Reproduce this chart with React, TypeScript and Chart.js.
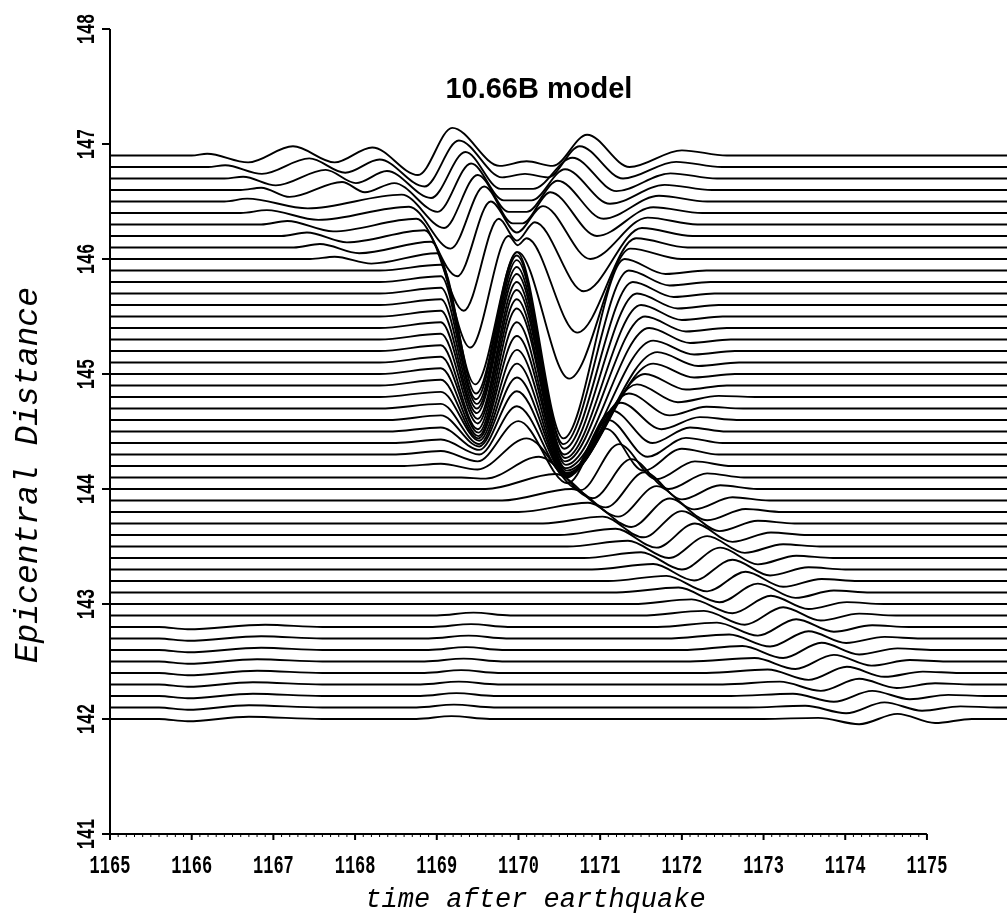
import React, { useEffect, useRef } from 'react';
import { Chart, registerables } from 'chart.js';

Chart.register(...registerables);

// ---- data ----
const TITLE = '10.66B model';
const X_TITLE = 'time after earthquake';
const Y_TITLE = 'Epicentral Distance';

const X_TICKS = [1165, 1166, 1167, 1168, 1169, 1170, 1171, 1172, 1173, 1174, 1175];
const Y_TICKS = [141, 142, 143, 144, 145, 146, 147, 148];
const X_RANGE = [1165, 1175.98];

const T_START = 1165;
const T_END = 1176.3;

// epicentral distance of each trace (its baseline)
const DISTANCES = [
  146.9, 146.8, 146.7, 146.6, 146.5, 146.4, 146.3, 146.2, 146.1, 146.0,
  145.9, 145.8, 145.7, 145.6, 145.5, 145.4, 145.3, 145.2, 145.1, 145.0,
  144.9, 144.8, 144.7, 144.6, 144.5, 144.4, 144.3, 144.2, 144.1, 144.0,
  143.9, 143.8, 143.7, 143.6, 143.5, 143.4, 143.3, 143.2, 143.1, 143.0,
  142.9, 142.8, 142.7, 142.6, 142.5, 142.4, 142.3, 142.2, 142.1, 142.0,
];

// turning points of each trace: [time, displacement (deg), time, displacement, ...]
const TRACE_EXTREMA: number[][] = [
  [1166.0, 0, 1166.19, 0.015, 1166.69, -0.06, 1167.24, 0.08, 1167.75, -0.06, 1168.21, 0.07, 1168.77, -0.17, 1169.19, 0.24, 1169.77, -0.09, 1170.1, -0.05, 1170.42, -0.09, 1170.84, 0.18, 1171.36, -0.1, 1172.0, 0.045, 1172.55, 0],
  [1166.2, 0, 1166.41, 0.015, 1166.86, -0.06, 1167.44, 0.075, 1167.88, -0.05, 1168.3, 0.065, 1168.85, -0.17, 1169.27, 0.23, 1169.8, -0.09, 1170.08, -0.06, 1170.36, -0.09, 1170.75, 0.18, 1171.28, -0.1, 1171.93, 0.045, 1172.49, 0],
  [1166.4, 0, 1166.63, 0.015, 1167.03, -0.06, 1167.64, 0.075, 1168.01, -0.04, 1168.39, 0.065, 1168.93, -0.17, 1169.35, 0.23, 1169.78, -0.09, 1170.18, -0.09, 1170.66, 0.18, 1171.2, -0.11, 1171.86, 0.045, 1172.43, 0],
  [1166.6, 0, 1166.85, 0.02, 1167.2, -0.06, 1167.84, 0.07, 1168.12, -0.02, 1168.48, 0.06, 1169.01, -0.19, 1169.42, 0.23, 1169.82, -0.09, 1170.16, -0.09, 1170.57, 0.18, 1171.12, -0.12, 1171.79, 0.045, 1172.37, 0],
  [1166.4, 0, 1166.68, 0.025, 1167.42, -0.06, 1168.57, 0.06, 1169.09, -0.23, 1169.5, 0.23, 1169.88, -0.09, 1170.1, -0.09, 1170.48, 0.18, 1171.04, -0.15, 1171.72, 0.05, 1172.31, 0],
  [1166.6, 0, 1166.92, 0.025, 1167.55, -0.06, 1168.66, 0.055, 1169.17, -0.31, 1169.58, 0.23, 1169.93, -0.09, 1170.05, -0.09, 1170.39, 0.18, 1170.96, -0.2, 1171.65, 0.05, 1172.25, 0],
  [1166.85, 0, 1167.17, 0.03, 1167.73, -0.06, 1168.75, 0.05, 1169.25, -0.45, 1169.66, 0.2, 1169.98, -0.07, 1170.3, 0.16, 1170.88, -0.3, 1171.58, 0.06, 1172.19, 0],
  [1167.1, 0, 1167.41, 0.03, 1167.9, -0.055, 1168.85, 0.05, 1169.33, -0.65, 1169.76, 0.15, 1169.98, -0.04, 1170.2, 0.12, 1170.8, -0.48, 1171.51, 0.07, 1172.13, 0],
  [1167.25, 0, 1167.57, 0.03, 1168.05, -0.05, 1168.93, 0.05, 1169.41, -0.87, 1169.88, 0.1, 1169.99, 0.02, 1170.1, 0.08, 1170.72, -0.74, 1171.44, 0.08, 1172.07, 0],
  [1167.45, 0, 1167.75, 0.02, 1168.2, -0.04, 1169.0, 0.05, 1169.47, -1.09, 1169.99, 0.06, 1170.62, -1.04, 1171.37, 0.09, 1172.0, 0],
  [1168.3, 0, 1169.05, 0.05, 1169.48, -1.07, 1169.98, 0.16, 1170.55, -1.46, 1171.3, 0.1, 1171.8, -0.03, 1172.3, 0],
  [1168.3, 0, 1169.05, 0.05, 1169.48, -1.02, 1169.98, 0.23, 1170.55, -1.41, 1171.35, 0.1, 1171.85, -0.03, 1172.35, 0],
  [1168.3, 0, 1169.05, 0.05, 1169.49, -0.96, 1169.98, 0.29, 1170.56, -1.35, 1171.4, 0.1, 1171.9, -0.03, 1172.4, 0],
  [1168.3, 0, 1169.05, 0.05, 1169.49, -0.9, 1169.98, 0.33, 1170.56, -1.3, 1171.45, 0.1, 1171.95, -0.03, 1172.45, 0],
  [1168.3, 0, 1169.05, 0.05, 1169.49, -0.84, 1169.98, 0.37, 1170.57, -1.23, 1171.5, 0.1, 1172.0, -0.03, 1172.5, 0],
  [1168.3, 0, 1169.05, 0.05, 1169.5, -0.79, 1169.98, 0.4, 1170.57, -1.16, 1171.55, 0.1, 1172.05, -0.03, 1172.55, 0],
  [1168.3, 0, 1169.05, 0.05, 1169.5, -0.73, 1169.98, 0.43, 1170.58, -1.09, 1171.6, 0.1, 1172.1, -0.03, 1172.6, 0],
  [1168.3, 0, 1169.05, 0.05, 1169.5, -0.68, 1169.98, 0.45, 1170.58, -1.02, 1171.65, 0.09, 1172.15, -0.03, 1172.65, 0],
  [1168.3, 0, 1169.05, 0.05, 1169.51, -0.61, 1169.98, 0.47, 1170.59, -0.94, 1171.7, 0.09, 1172.2, -0.03, 1172.7, 0],
  [1168.3, 0, 1169.05, 0.05, 1169.51, -0.54, 1169.98, 0.45, 1170.59, -0.86, 1171.65, 0.09, 1172.15, -0.03, 1172.65, 0],
  [1168.3, 0, 1169.05, 0.05, 1169.51, -0.46, 1169.98, 0.43, 1170.6, -0.77, 1171.55, 0.1, 1172.05, -0.035, 1172.55, 0],
  [1168.3, 0, 1169.05, 0.045, 1169.52, -0.38, 1169.98, 0.41, 1170.6, -0.68, 1171.45, 0.11, 1171.95, -0.045, 1172.45, 0.01, 1172.9, 0],
  [1168.3, 0, 1169.05, 0.04, 1169.52, -0.31, 1169.98, 0.39, 1170.6, -0.59, 1171.35, 0.13, 1171.85, -0.06, 1172.3, 0.015, 1172.75, 0],
  [1168.4, 0, 1169.05, 0.04, 1169.52, -0.23, 1169.98, 0.37, 1170.6, -0.49, 1171.25, 0.15, 1171.75, -0.08, 1172.22, 0.025, 1172.67, 0],
  [1168.4, 0, 1169.05, 0.035, 1169.52, -0.16, 1169.98, 0.35, 1170.6, -0.39, 1171.15, 0.18, 1171.64, -0.1, 1172.1, 0.035, 1172.55, 0],
  [1168.5, 0, 1169.05, 0.03, 1169.52, -0.1, 1169.98, 0.32, 1170.6, -0.3, 1171.1, 0.2, 1171.58, -0.12, 1172.05, 0.045, 1172.5, 0],
  [1168.5, 0, 1169.05, 0.03, 1169.5, -0.06, 1170.0, 0.29, 1170.6, -0.25, 1171.07, 0.225, 1171.53, -0.14, 1172.0, 0.05, 1172.45, 0],
  [1168.6, 0, 1169.05, 0.02, 1169.5, -0.03, 1170.1, 0.24, 1170.76, -0.21, 1171.23, 0.19, 1171.69, -0.115, 1172.16, 0.04, 1172.61, 0],
  [1169.3, 0, 1169.6, -0.01, 1170.25, 0.18, 1170.91, -0.18, 1171.38, 0.16, 1171.84, -0.1, 1172.31, 0.036, 1172.76, 0],
  [1169.6, 0, 1170.45, 0.13, 1171.07, -0.16, 1171.54, 0.145, 1172.0, -0.09, 1172.47, 0.032, 1172.92, 0],
  [1169.8, 0, 1170.65, 0.1, 1171.22, -0.14, 1171.69, 0.125, 1172.15, -0.077, 1172.62, 0.028, 1173.07, 0],
  [1170.0, 0, 1170.85, 0.08, 1171.38, -0.13, 1171.85, 0.117, 1172.31, -0.072, 1172.78, 0.026, 1173.23, 0],
  [1170.3, 0, 1171.03, 0.06, 1171.53, -0.12, 1172.0, 0.108, 1172.46, -0.066, 1172.93, 0.024, 1173.38, 0],
  [1170.5, 0, 1171.19, 0.055, 1171.69, -0.11, 1172.16, 0.1, 1172.62, -0.06, 1173.09, 0.022, 1173.54, 0],
  [1170.6, 0, 1171.34, 0.05, 1171.84, -0.1, 1172.31, 0.09, 1172.77, -0.055, 1173.24, 0.02, 1173.69, 0],
  [1170.8, 0, 1171.5, 0.05, 1172.0, -0.1, 1172.47, 0.09, 1172.93, -0.055, 1173.4, 0.02, 1173.85, 0],
  [1170.9, 0, 1171.65, 0.048, 1172.15, -0.095, 1172.62, 0.085, 1173.08, -0.052, 1173.55, 0.019, 1174.0, 0],
  [1171.1, 0, 1171.81, 0.045, 1172.31, -0.09, 1172.78, 0.08, 1173.24, -0.05, 1173.71, 0.018, 1174.16, 0],
  [1171.2, 0, 1171.96, 0.043, 1172.46, -0.085, 1172.93, 0.077, 1173.39, -0.047, 1173.86, 0.017, 1174.31, 0],
  [1171.4, 0, 1172.12, 0.04, 1172.62, -0.08, 1173.09, 0.072, 1173.55, -0.044, 1174.02, 0.016, 1174.47, 0],
  [1169.0, 0, 1169.45, 0.025, 1169.9, 0, 1171.5, 0, 1172.27, 0.04, 1172.77, -0.08, 1173.24, 0.072, 1173.7, -0.044, 1174.17, 0.016, 1174.62, 0],
  [1165.6, 0, 1165.95, -0.02, 1166.9, 0.02, 1167.6, 0, 1168.95, 0, 1169.42, 0.025, 1169.87, 0, 1171.7, 0, 1172.43, 0.038, 1172.93, -0.075, 1173.4, 0.068, 1173.86, -0.041, 1174.33, 0.015, 1174.78, 0],
  [1165.6, 0, 1165.95, -0.02, 1166.85, 0.02, 1167.6, 0, 1168.9, 0, 1169.39, 0.025, 1169.85, 0, 1171.8, 0, 1172.58, 0.035, 1173.08, -0.07, 1173.55, 0.063, 1174.01, -0.039, 1174.48, 0.014, 1174.93, 0],
  [1165.6, 0, 1165.95, -0.02, 1166.85, 0.02, 1167.6, 0, 1168.9, 0, 1169.36, 0.025, 1169.8, 0, 1172.0, 0, 1172.74, 0.035, 1173.24, -0.07, 1173.71, 0.063, 1174.17, -0.039, 1174.64, 0.014, 1175.09, 0],
  [1165.6, 0, 1165.95, -0.02, 1166.8, 0.02, 1167.6, 0, 1168.85, 0, 1169.33, 0.025, 1169.8, 0, 1172.1, 0, 1172.89, 0.03, 1173.39, -0.065, 1173.86, 0.058, 1174.32, -0.036, 1174.79, 0.013, 1175.24, 0],
  [1165.6, 0, 1165.95, -0.02, 1166.8, 0.02, 1167.6, 0, 1168.85, 0, 1169.3, 0.025, 1169.75, 0, 1172.3, 0, 1173.05, 0.03, 1173.55, -0.06, 1174.02, 0.054, 1174.48, -0.033, 1174.95, 0.012, 1175.4, 0],
  [1165.6, 0, 1165.95, -0.02, 1166.75, 0.02, 1167.6, 0, 1168.8, 0, 1169.27, 0.025, 1169.75, 0, 1172.5, 0, 1173.2, 0.025, 1173.7, -0.055, 1174.17, 0.05, 1174.63, -0.03, 1175.1, 0.011, 1175.55, 0],
  [1165.6, 0, 1165.95, -0.02, 1166.75, 0.02, 1167.6, 0, 1168.8, 0, 1169.24, 0.025, 1169.7, 0, 1172.6, 0, 1173.36, 0.02, 1173.86, -0.05, 1174.33, 0.045, 1174.79, -0.028, 1175.26, 0.01, 1175.71, 0],
  [1165.6, 0, 1165.95, -0.02, 1166.7, 0.02, 1167.6, 0, 1168.75, 0, 1169.21, 0.025, 1169.7, 0, 1172.8, 0, 1173.51, 0.015, 1174.01, -0.05, 1174.48, 0.045, 1174.94, -0.028, 1175.41, 0.01, 1175.86, 0],
  [1165.6, 0, 1165.95, -0.02, 1166.7, 0.02, 1167.6, 0, 1168.75, 0, 1169.18, 0.025, 1169.65, 0, 1173.0, 0, 1173.67, 0.01, 1174.17, -0.045, 1174.64, 0.045, 1175.1, -0.035, 1175.55, 0],
];

// ---- chart ----
const AXIS_FONT = '"Liberation Mono", "DejaVu Sans Mono", monospace';
const TITLE_FONT = '"Liberation Sans", Arial, sans-serif';

function buildDatasets() {
  return DISTANCES.map((d, i) => {
    const row = TRACE_EXTREMA[i];
    const pts: { x: number; y: number }[] = [{ x: T_START, y: d }];
    for (let k = 0; k < row.length; k += 2) pts.push({ x: row[k], y: d + row[k + 1] });
    pts.push({ x: T_END, y: d });
    return {
      data: pts,
      showLine: true,
      borderColor: '#000',
      borderWidth: 1.9,
      pointRadius: 0,
      cubicInterpolationMode: 'monotone' as const,
      clip: false as const,
      fill: false,
    };
  });
}

const decorPlugin = {
  id: 'seismoDecor',
  afterDraw(chart: any) {
    const ctx: CanvasRenderingContext2D = chart.ctx;
    const xs = chart.scales.x;
    const ys = chart.scales.y;
    const x0 = xs.getPixelForValue(X_TICKS[0]);
    const x1 = xs.getPixelForValue(X_TICKS[X_TICKS.length - 1]);
    const yb = ys.getPixelForValue(Y_TICKS[0]);
    const yt = ys.getPixelForValue(Y_TICKS[Y_TICKS.length - 1]);
    ctx.save();
    ctx.strokeStyle = '#000';
    ctx.fillStyle = '#000';
    ctx.lineCap = 'butt';
    const seg = (ax: number, ay: number, bx: number, by: number) => {
      ctx.beginPath();
      ctx.moveTo(ax, ay);
      ctx.lineTo(bx, by);
      ctx.stroke();
    };
    ctx.lineWidth = 2;
    seg(x0, yt, x0, yb + 5);
    seg(x0 - 7, yb, x1, yb);
    Y_TICKS.forEach((v) => {
      const y = ys.getPixelForValue(v);
      seg(x0 - 8, y, x0, y);
    });
    X_TICKS.forEach((v) => {
      const x = xs.getPixelForValue(v);
      seg(x, yb, x, yb + 6);
    });
    ctx.lineWidth = 1;
    const nMinor = Math.round((X_TICKS[X_TICKS.length - 1] - X_TICKS[0]) * 10);
    for (let k = 0; k <= nMinor; k++) {
      const x = xs.getPixelForValue(X_TICKS[0] + k / 10);
      seg(x, yb, x, yb + 3);
    }
    ctx.font = 'bold 25px ' + AXIS_FONT;
    ctx.textAlign = 'center';
    ctx.textBaseline = 'middle';
    X_TICKS.forEach((v) => {
      const x = xs.getPixelForValue(v);
      ctx.save();
      ctx.translate(x, yb + 33);
      ctx.scale(0.68, 1);
      ctx.fillText(String(v), 0, 0);
      ctx.restore();
    });
    Y_TICKS.forEach((v) => {
      const y = ys.getPixelForValue(v);
      ctx.save();
      ctx.translate(x0 - 22, y);
      ctx.rotate(-Math.PI / 2);
      ctx.scale(0.68, 1);
      ctx.fillText(String(v), 0, 0);
      ctx.restore();
    });
    ctx.font = 'italic 27px ' + AXIS_FONT;
    ctx.textBaseline = 'alphabetic';
    ctx.fillText(X_TITLE, (x0 + x1) / 2 + 17, yb + 73);
    ctx.save();
    ctx.font = 'italic 33px ' + AXIS_FONT;
    ctx.translate(37, ys.getPixelForValue(144.12));
    ctx.rotate(-Math.PI / 2);
    ctx.fillText(Y_TITLE, 0, 0);
    ctx.restore();
    ctx.font = 'bold 29px ' + TITLE_FONT;
    ctx.fillText(TITLE, xs.getPixelForValue(1170.25), ys.getPixelForValue(147.4));
    ctx.restore();
  },
};

export default function App() {
  const canvasRef = useRef<HTMLCanvasElement | null>(null);
  useEffect(() => {
    const canvas = canvasRef.current;
    if (!canvas) return;
    const chart = new Chart(canvas, {
      type: 'scatter',
      data: { datasets: buildDatasets() as any },
      options: {
        responsive: false,
        animation: false,
        events: [],
        layout: { padding: { left: 110, right: 0, top: 29, bottom: 79 } },
        elements: { line: { capBezierPoints: false, tension: 0 } },
        scales: {
          x: { type: 'linear', min: X_RANGE[0], max: X_RANGE[1], display: false },
          y: { type: 'linear', min: Y_TICKS[0], max: Y_TICKS[Y_TICKS.length - 1], display: false },
        },
        plugins: { legend: { display: false }, tooltip: { enabled: false }, title: { display: false } },
      },
      plugins: [decorPlugin],
    });
    return () => chart.destroy();
  }, []);
  return (
    <div style={{ position: 'absolute', left: 0, top: 0, width: 1007, height: 913, background: '#fff', overflow: 'hidden' }}>
      <canvas ref={canvasRef} width={1007} height={913} style={{ display: 'block' }} />
    </div>
  );
}
